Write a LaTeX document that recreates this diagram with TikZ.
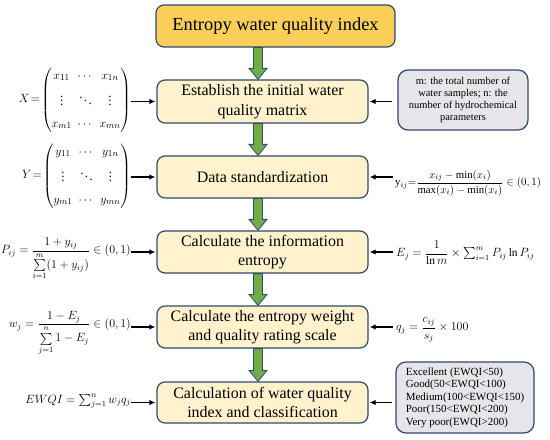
\documentclass[tikz,border=0pt]{standalone}
\usepackage{amsmath}
\usepackage{fontspec}
\setmainfont{Liberation Serif}
\usetikzlibrary{arrows.meta,calc}
\definecolor{gold}{HTML}{F9CF5A}
\definecolor{cream}{HTML}{FFF2CC}
\definecolor{edge}{HTML}{2F4A6B}
\definecolor{garrow}{HTML}{70AD47}
\definecolor{grayfill}{HTML}{E6E6EA}
\tikzset{
  mainbox/.style={draw=edge, line width=1.2bp, rounded corners=8bp, fill=cream,
    minimum width=211bp, minimum height=42bp, align=center, inner sep=0pt,
    font=\fontsize{16}{19.5}\selectfont},
  titlebox/.style={draw=edge, line width=1.2bp, rounded corners=8bp, fill=gold,
    minimum width=239bp, minimum height=42bp, inner sep=0pt,
    font=\fontsize{18.5}{22}\selectfont},
  notebox/.style={draw=edge, line width=1.2bp, rounded corners=10bp, fill=grayfill,
    inner sep=0pt},
  formula/.style={inner sep=0pt, font=\fontsize{11.5}{14}\selectfont},
  matfont/.style={inner sep=0pt, font=\fontsize{13}{16}\selectfont},
  feed/.style={line width=1.6bp, -{Latex[length=6bp,width=5.5bp]}},
}
\newcommand{\greenarr}[2]{%
  \fill[garrow, draw=edge, line width=0.8bp]
    ($(#1.south -| ax)+(-4.5,0)$) -- ($(#2.north -| ax)+(-4.5,-11)$) --
    ($(#2.north -| ax)+(-9,-11)$) -- (#2.north -| ax) --
    ($(#2.north -| ax)+(9,-11)$) -- ($(#2.north -| ax)+(4.5,-11)$) --
    ($(#1.south -| ax)+(4.5,0)$) -- cycle;}
\begin{document}
\begin{tikzpicture}[x=1bp,y=-1bp]
\useasboundingbox (0,0) rectangle (550,440);
\coordinate (ax) at (258,0);

\node[titlebox] (t) at (275.5,26) {Entropy water quality index};
\node[mainbox, minimum height=43bp] (b1) at (262.5,101.5) {Establish the initial water\\quality matrix};
\node[mainbox] (b2) at (262.5,177) {Data standardization};
\node[mainbox] (b3) at (262.5,252) {Calculate the information\\entropy};
\node[mainbox] (b4) at (262.5,327) {Calculate the entropy weight\\and quality rating scale};
\node[mainbox, minimum height=41bp] (b5) at (262.5,402.5) {Calculation of water quality\\index and classification};

\greenarr{t}{b1}
\greenarr{b1}{b2}
\greenarr{b2}{b3}
\greenarr{b3}{b4}
\greenarr{b4}{b5}

% left formulas
\node[matfont, anchor=east] (fx) at (131,100)
  {$\setlength{\arraycolsep}{3pt}X\!=\!\begin{pmatrix} x_{11} & \cdots & x_{1n}\\[6pt] \vdots & \ddots & \vdots\\[6pt] x_{m1} & \cdots & x_{mn}\end{pmatrix}$};
\node[matfont, anchor=east] (fy) at (131,176)
  {$\setlength{\arraycolsep}{3pt}Y\!=\!\begin{pmatrix} y_{11} & \cdots & y_{1n}\\[6pt] \vdots & \ddots & \vdots\\[6pt] y_{m1} & \cdots & y_{mn}\end{pmatrix}$};
\node[formula, anchor=east] (fp) at (131,259)
  {$P_{ij}=\dfrac{1+y_{ij}}{\sum\limits_{i=1}^{m}(1+y_{ij})}\in(0,1)$};
\node[formula, anchor=east] (fw) at (131,333)
  {$w_{j}=\dfrac{1-E_j}{\sum\limits_{j=1}^{n}1-E_j}\in(0,1)$};
\node[formula, anchor=east] (fe) at (131,401)
  {$EWQI=\textstyle\sum_{j=1}^{n} w_j q_j$};

\draw[feed] (fx.east |- b1.west) -- ([xshift=-1bp]b1.west);
\draw[feed] (fy.east |- b2.west) -- ([xshift=-1bp]b2.west);
\draw[feed] (fp.east |- b3.west) -- ([xshift=-1bp]b3.west);
\draw[feed] (fw.east |- b4.west) -- ([xshift=-1bp]b4.west);
\draw[feed] (fe.east |- b5.west) -- ([xshift=-1bp]b5.west);

% right side
\node[notebox, minimum width=130bp, minimum height=60bp, align=center,
  font=\fontsize{10.5}{12}\selectfont] (g1) at (463,100)
  {m: the total number of\\water samples; n: the\\number of hydrochemical\\parameters};
\node[formula, anchor=west, font=\fontsize{10.8}{13}\selectfont] (fyij) at (395,183)
  {$\mathrm{y}_{ij}{=}\dfrac{x_{ij}-\min(x_i)}{\max(x_i)-\min(x_i)}\in(0,1)$};
\node[formula, anchor=west, font=\fontsize{11.5}{14}\selectfont] (fej) at (396,253)
  {$E_j=\dfrac{1}{\ln m}\times\textstyle\sum_{i=1}^{m}P_{ij}\ln P_{ij}$};
\node[formula, anchor=west, font=\fontsize{12}{15}\selectfont] (fq) at (396,330)
  {$q_j=\dfrac{c_{ij}}{s_j}\times 100$};
\node[notebox, minimum width=138bp, minimum height=71bp, align=left,
  font=\fontsize{11}{12.6}\selectfont] (g2) at (465,397.5)
  {Excellent (EWQI<50)\\Good(50<EWQI<100)\\Medium(100<EWQI<150)\\Poor(150<EWQI<200)\\Very poor(EWQI>200)};

\draw[feed] ([xshift=-5bp]g1.west |- b1.east) -- ([xshift=1bp]b1.east);
\draw[feed] ([xshift=-2bp]fyij.west |- b2.east) -- ([xshift=1bp]b2.east);
\draw[feed] ([xshift=-3bp]fej.west |- b3.east) -- ([xshift=1bp]b3.east);
\draw[feed] ([xshift=-3bp]fq.west |- b4.east) -- ([xshift=1bp]b4.east);
\draw[feed] ([xshift=-3bp]g2.west |- b5.east) -- ([xshift=1bp]b5.east);
\end{tikzpicture}
\end{document}
